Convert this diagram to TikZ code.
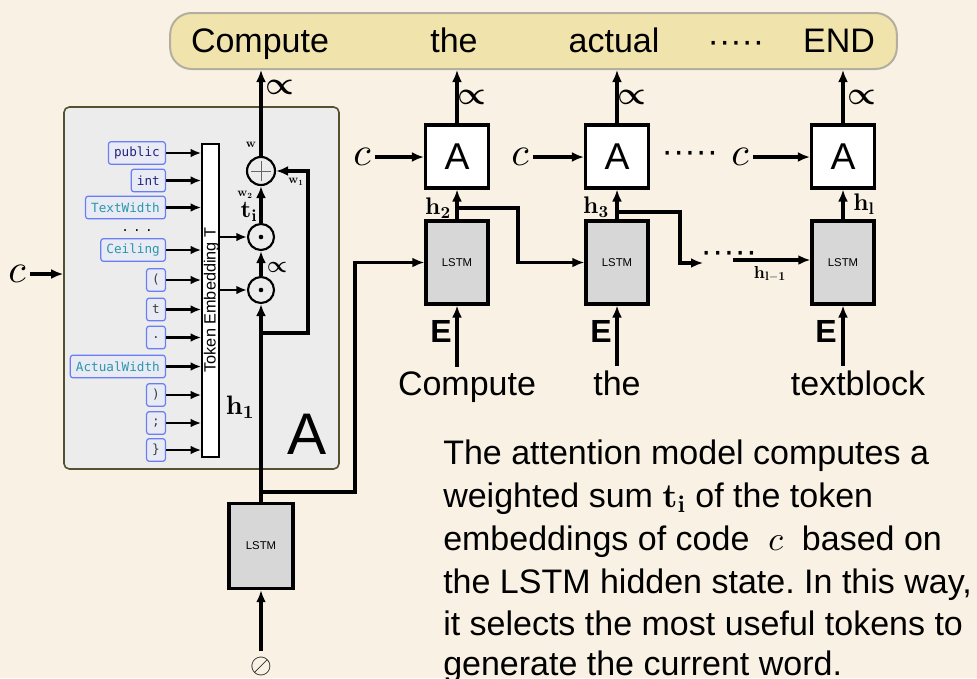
\documentclass[tikz,border=0pt]{standalone}
\usepackage{amsmath}
\usepackage[no-math]{fontspec}
\setmainfont{Liberation Sans}
\setmonofont{DejaVu Sans Mono}
\DeclareFontShape{OML}{cmm}{m}{it}{<->cmmi10}{}
\DeclareFontShape{OML}{cmm}{b}{it}{<->cmmib10}{}
\DeclareFontShape{OMS}{cmsy}{m}{n}{<->cmsy10}{}
\DeclareFontShape{OMS}{cmsy}{b}{n}{<->cmbsy10}{}
\DeclareFontShape{OT1}{cmr}{bx}{n}{<->cmbx10}{}
\DeclareFontShape{OT1}{cmr}{m}{n}{<->cmr10}{}
\usetikzlibrary{arrows.meta,calc}
\definecolor{bg}{RGB}{249,242,228}
\definecolor{bannerf}{RGB}{240,227,172}
\definecolor{bannerb}{RGB}{178,174,160}
\definecolor{panelf}{RGB}{236,236,236}
\definecolor{panelb}{RGB}{85,80,45}
\definecolor{lstmf}{RGB}{215,215,215}
\definecolor{tokb}{RGB}{105,125,245}
\definecolor{tokf}{RGB}{232,234,244}
\definecolor{toknavy}{RGB}{35,35,125}
\definecolor{tokteal}{RGB}{45,150,170}
\definecolor{tokpunct}{RGB}{60,60,60}
\newcommand\myfs[1]{\fontsize{#1}{#1}\selectfont}
\begin{document}
\begin{tikzpicture}[x=0.75pt,y=-0.75pt,
  arr/.style={line width=2.3pt,-{Latex[length=9pt,width=7.5pt]}},
  tokarr/.style={line width=2pt,-{Latex[length=8pt,width=6.5pt]}},
  tok/.style={draw=tokb,fill=tokf,rounded corners=2pt,line width=0.9pt,
    font=\ttfamily\myfs{9.5},inner xsep=4.2pt,inner ysep=0pt,minimum height=17pt,anchor=east},
  lstmbox/.style={draw,fill=lstmf,line width=2.6pt,minimum width=46.5pt,minimum height=62pt,
    font=\myfs{8.5}},
  abox/.style={draw,fill=white,line width=2.6pt,minimum width=47pt,minimum height=47pt,
    font=\myfs{28}},
  bigtxt/.style={font=\myfs{25.5},anchor=base},
  paratxt/.style={font=\myfs{25.5}\frenchspacing,anchor=base west,inner sep=0pt},
  clab/.style={font=\myfs{30}},
  proplab/.style={font=\myfs{24}},
  hlab/.style={font=\myfs{18}},
  wlab/.style={font=\myfs{9}},
  elab/.style={font=\bfseries\myfs{24}},
  circ/.style={circle,draw,line width=1.6pt,inner sep=0pt}
]
\useasboundingbox (0,0) rectangle (977,678);
\fill[bg] (0,0) rectangle (977,678);

% panel of attention model
\node[draw=panelb,fill=panelf,line width=1.2pt,rounded corners=4pt,
  minimum width=206.25pt,minimum height=271.5pt] (panel) at (201.5,288) {};
\node[font=\myfs{44}] (bigA) at (307.5,434) {A};

% banner
\node[draw=bannerb,fill=bannerf,line width=1.5pt,rounded corners=16pt,
  minimum width=545pt,minimum height=42pt] (banner) at (533.5,41) {};
\node[bigtxt] (o1) at (260,52) {Compute};
\node[bigtxt] (o2) at (454,52) {the};
\node[bigtxt] (o3) at (614,52) {actual};
\node[bigtxt] (o4) at (736,52) {·····};
\node[bigtxt] (o5) at (839,52) {END};

% token embedding bar
\node[draw,fill=white,line width=1.1pt,minimum width=12.75pt,minimum height=234.75pt,inner sep=0pt]
  (bar) at (210.5,300.5) {};
\node[rotate=90,font=\myfs{12.2},inner sep=0pt] (bartxt) at (211.5,300) {Token Embedding T};

% tokens
\node[tok,text=toknavy] (k1) at (166,153) {public};
\node[tok,text=toknavy] (k2) at (166,180.5) {int};
\node[tok,text=tokteal] (k3) at (166,207.5) {TextWidth};
\node[font=\ttfamily\myfs{9.5},anchor=base] (kd) at (137,231) {.\,\,.\,\,.};
\node[tok,text=tokteal] (k4) at (166,250) {Ceiling};
\node[tok,text=tokpunct] (k5) at (166,280) {(};
\node[tok,text=tokpunct] (k6) at (166,309.5) {t};
\node[tok,text=tokpunct] (k7) at (166,337.5) {.};
\node[tok,text=tokteal] (k8) at (166,366.5) {ActualWidth};
\node[tok,text=tokpunct] (k9) at (166,395) {)};
\node[tok,text=tokpunct] (k10) at (166,423) {;};
\node[tok,text=tokpunct] (k11) at (166,450) {\}};
\foreach \k in {k1,k2,k3,k4,k5,k6,k7,k8,k9,k10,k11}
  \draw[tokarr] (\k.east) -- (\k.east -| bar.west);

% circles
\node[circ,minimum size=21pt] (plus) at (261,171) {};
\draw[line width=0.7pt,black!60] ($(plus.center)+(-10,0)$) -- ($(plus.center)+(10,0)$);
\draw[line width=0.7pt,black!60] ($(plus.center)+(0,-10)$) -- ($(plus.center)+(0,10)$);
\node[circ,minimum size=19.5pt] (dot1) at (261,237) {};
\node[circ,minimum size=19.5pt] (dot2) at (261,290) {};
\fill (dot1.center) circle (2.3);
\fill (dot2.center) circle (2.3);

% LSTMs
\node[lstmbox,minimum width=48pt,minimum height=63.75pt] (l0) at (261,546) {LSTM};
\node[lstmbox] (l1) at (457,262.5) {LSTM};
\node[lstmbox] (l2) at (617,262.5) {LSTM};
\node[lstmbox] (l3) at (843,262.5) {LSTM};

% A boxes
\node[abox] (a1) at (457,156.5) {A};
\node[abox] (a2) at (617,156.5) {A};
\node[abox] (a3) at (843,156.5) {A};

% connectors inside attention panel
\draw[tokarr] (bar.east |- dot1) -- (dot1.west);
\draw[tokarr] (bar.east |- dot2) -- (dot2.west);
\draw[arr] (dot2.north) -- (dot1.south);
\draw[arr] (dot1.north) -- (plus.south);
\draw[arr] (plus.north) -- (plus.north |- banner.south);
\draw[arr] (l0.north) -- (dot2.south);
\coordinate (j3) at (261,333);
\draw[arr] (j3) -- ++(47,0) |- (plus.east);
\coordinate (j0) at (261,492);
\draw[arr] (j0) -- ++(94,0) |- (l1.west);

% labels in panel
\node[font=\myfs{17}] (pr0) at (277,267) {$\boldsymbol{\propto}$};
\node[hlab] (ti) at (249,212) {$\mathbf{t}_{\mathbf{i}}$};
\node[wlab] (w2) at (245,195) {$\mathbf{w}_{\mathbf{2}}$};
\node[wlab] (w0) at (251,145) {$\mathbf{w}$};
\node[wlab] (w1) at (296,182) {$\mathbf{w}_{\mathbf{1}}$};
\node[font=\myfs{20}] (h1) at (240,407) {$\mathbf{h}_{\mathbf{1}}$};

% left input c
\node[clab] (c0) at (17,274) {$c$};
\draw[arr] (c0.east) -- (c0.east -| panel.west);

% bottom input
\node[font=\myfs{21}] (empty) at (261,666) {$\oslash$};
\coordinate (s0) at (261,651);
\draw[arr] (s0) -- (l0.south);

% top propto labels
\node[proplab] (pt1) at (280,87) {$\boldsymbol{\propto}$};
\node[proplab] (pt2) at (472,97) {$\boldsymbol{\propto}$};
\node[proplab] (pt3) at (632,97) {$\boldsymbol{\propto}$};
\node[proplab] (pt4) at (862,97) {$\boldsymbol{\propto}$};
\draw[arr] (a1.north) -- (a1.north |- banner.south);
\draw[arr] (a2.north) -- (a2.north |- banner.south);
\draw[arr] (a3.north) -- (a3.north |- banner.south);

% c inputs to A
\node[clab] (c1) at (362,157) {$c$};
\node[clab] (c2) at (520,157) {$c$};
\node[bigtxt,anchor=center] (cd) at (690,157) {·····};
\node[clab] (c3) at (740,157) {$c$};
\draw[arr] (c1.east) -- (c1.east -| a1.west);
\draw[arr] (c2.east) -- (c2.east -| a2.west);
\draw[arr] (c3.east) -- (c3.east -| a3.west);

% LSTM to A
\draw[arr] (l1.north) -- (a1.south);
\draw[arr] (l2.north) -- (a2.south);
\draw[arr] (l3.north) -- (a3.south);
\node[hlab] (h2) at (438,208) {$\mathbf{h}_{\mathbf{2}}$};
\node[hlab] (h3) at (596,207) {$\mathbf{h}_{\mathbf{3}}$};
\node[hlab] (hl) at (864,204) {$\mathbf{h}_{\mathbf{l}}$};

% recurrent links
\coordinate (j1) at (457,208);
\draw[arr] (j1) -- ++(61,0) |- (l2.west);
\coordinate (j2) at (617,212);
\coordinate (e2) at (703,263);
\draw[arr] (j2) -- ++(63,0) |- (e2);
\node[bigtxt,anchor=center] (ld) at (729,257) {·····};
\coordinate (s3) at (733,260);
\draw[arr] (s3) -- (s3 -| l3.west);
\node[font=\myfs{13}] (hlm) at (770,274) {$\mathbf{h}_{\mathbf{l}-\mathbf{1}}$};

% word inputs
\node[bigtxt] (x1) at (467,395) {Compute};
\node[bigtxt] (x2) at (617,395) {the};
\node[bigtxt] (x3) at (858,395) {textblock};
\draw[arr] (l1 |- x1.north) -- (l1.south);
\draw[arr] (l2 |- x2.north) -- (l2.south);
\draw[arr] (l3 |- x3.north) -- (l3.south);
\node[elab] (e1) at (441,331) {E};
\node[elab] (e2l) at (601,331) {E};
\node[elab] (e3) at (826,331) {E};

% explanatory paragraph
\node[paratxt] (p1) at (443,464) {The attention model computes a};
\node[paratxt] (p2) at (443,507) {weighted sum $\mathbf{t}_{\mathbf{i}}$ of the token};
\node[paratxt] (p3) at (443,550) {embeddings of code\ \ $c$\ \ based on};
\node[paratxt] (p4) at (443,593) {the LSTM hidden state. In this way,};
\node[paratxt] (p5) at (443,635) {it selects the most useful tokens to};
\node[paratxt] (p6) at (443,675) {generate the current word.};
\end{tikzpicture}
\end{document}
